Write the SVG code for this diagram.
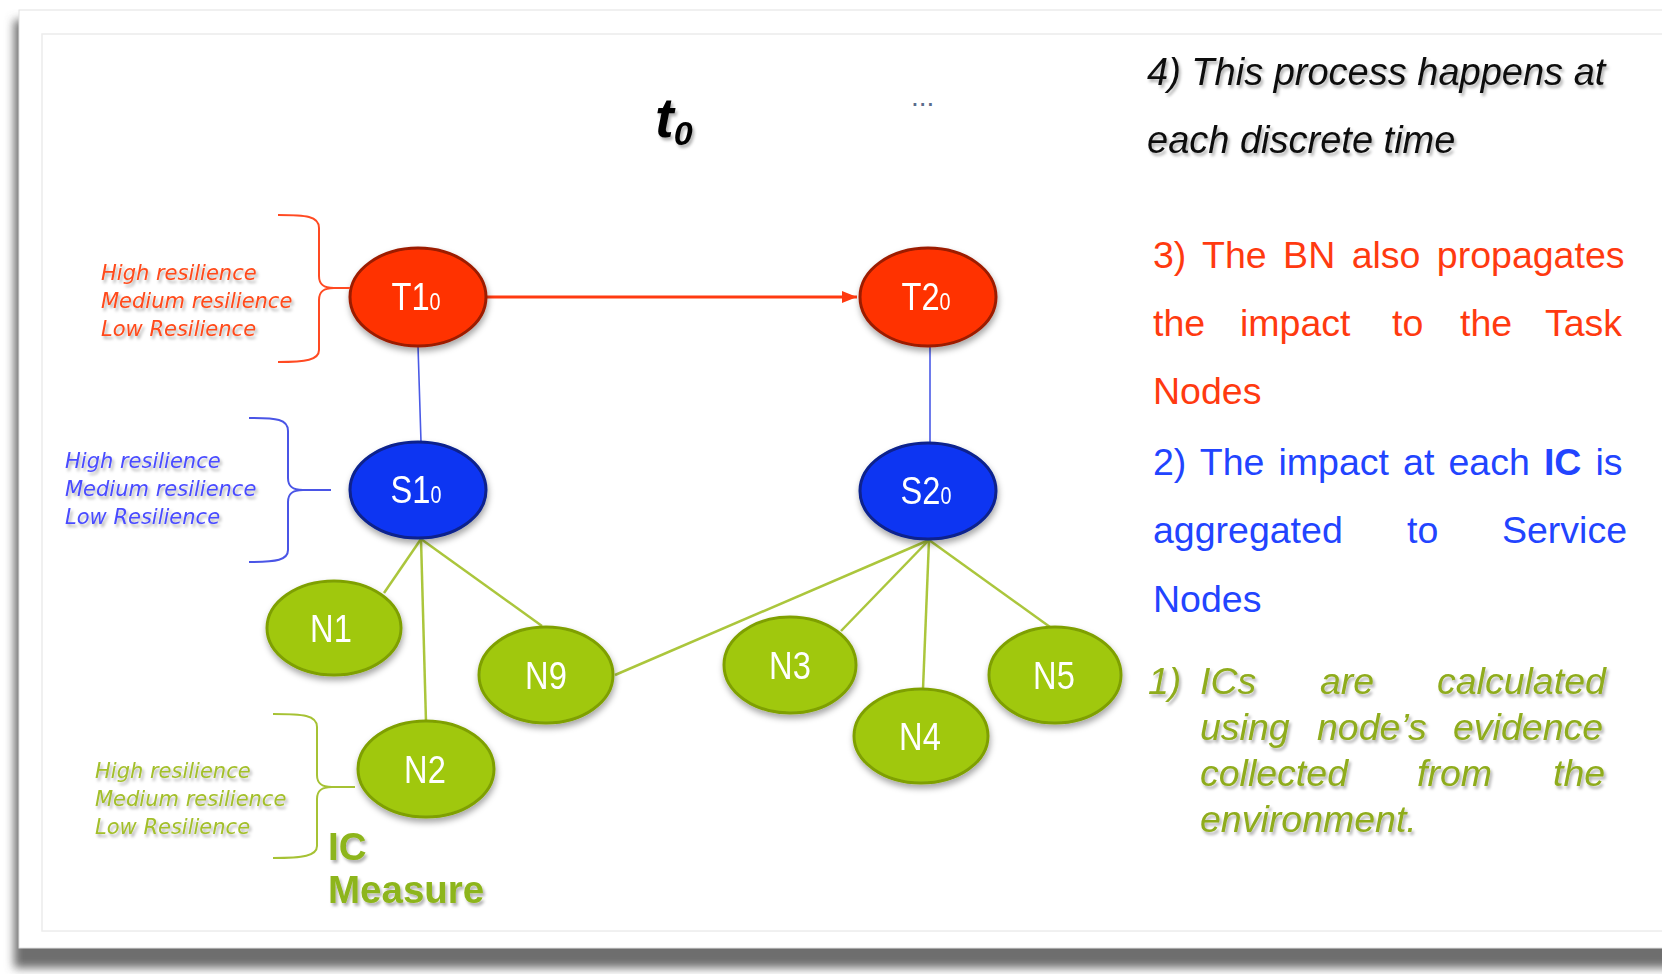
<svg xmlns="http://www.w3.org/2000/svg" width="1662" height="974" viewBox="0 0 1662 974">
<defs>
<style>
.card{fill:#ffffff;stroke:#e2e2e2;stroke-width:1}
.frame{fill:none;stroke:#ececec;stroke-width:1.5}
.tnode{fill:#ff3300;stroke:#9c1c06;stroke-width:3}
.snode{fill:#0a36f2;stroke:#08208c;stroke-width:3}
.nnode{fill:#a0c80c;stroke:#7fa006;stroke-width:3}
.nlabel{font-family:"Liberation Sans",Arial,sans-serif;font-size:38px;fill:#ffffff;text-anchor:middle}
.sub{font-size:23px}
.green{stroke:#abc63c;stroke-width:2.5;fill:none}
.blue{stroke:#4a5ae6;stroke-width:1.6;fill:none}
.red{stroke:#ff3a10;stroke-width:3;fill:none}
.brace{fill:none;stroke-width:2}
.res{font-family:"DejaVu Sans",Verdana,sans-serif;font-style:italic;font-size:21px}
.body{font-family:"Liberation Sans",Arial,sans-serif;font-size:37.5px}
</style>
<filter id="nshadow" x="-30%" y="-30%" width="160%" height="170%">
<feDropShadow dx="1" dy="4" stdDeviation="3" flood-color="#000" flood-opacity="0.35"/>
</filter>
<filter id="tshadow" x="-10%" y="-30%" width="120%" height="170%">
<feDropShadow dx="2" dy="3" stdDeviation="1.5" flood-color="#000" flood-opacity="0.3"/>
</filter>
<filter id="cblur" x="-5%" y="-5%" width="110%" height="110%">
<feGaussianBlur stdDeviation="5"/>
</filter>
<marker id="arrow" markerUnits="userSpaceOnUse" markerWidth="16" markerHeight="12" refX="15" refY="6" orient="auto">
<path d="M0,0 L15,6 L0,12 Z" fill="#ff3a10"/>
</marker>
</defs>

<rect x="0" y="0" width="1662" height="974" fill="#ffffff"/>
<g id="card">
<rect x="14" y="20" width="1720" height="948" fill="#6e6e6e" filter="url(#cblur)"/>
<rect class="card" x="19" y="10" width="1720" height="938"/>
<rect class="frame" x="42" y="34" width="1720" height="897"/>
</g>

<g id="connectors">
<line class="red" x1="487" y1="297" x2="857" y2="297" marker-end="url(#arrow)"/>
<line class="blue" x1="418" y1="346" x2="421" y2="442"/>
<line class="blue" x1="930" y1="346" x2="930" y2="442"/>
<line class="green" x1="421" y1="539" x2="384" y2="593"/>
<line class="green" x1="421" y1="539" x2="426" y2="722"/>
<line class="green" x1="421" y1="539" x2="542" y2="626"/>
<line class="green" x1="615" y1="675" x2="929" y2="540"/>
<line class="green" x1="929" y1="540" x2="841" y2="631"/>
<line class="green" x1="929" y1="540" x2="923" y2="689"/>
<line class="green" x1="929" y1="540" x2="1050" y2="627"/>
</g>

<g id="T1" filter="url(#nshadow)">
<ellipse class="tnode" cx="418" cy="297" rx="68" ry="49"/>
<text class="nlabel" transform="translate(416,310) scale(0.86,1)">T1<tspan class="sub">0</tspan></text>
</g>
<g id="T2" filter="url(#nshadow)">
<ellipse class="tnode" cx="928" cy="297" rx="68" ry="49"/>
<text class="nlabel" transform="translate(926,310) scale(0.86,1)">T2<tspan class="sub">0</tspan></text>
</g>
<g id="S1" filter="url(#nshadow)">
<ellipse class="snode" cx="418" cy="490" rx="68" ry="48"/>
<text class="nlabel" transform="translate(416,503) scale(0.86,1)">S1<tspan class="sub">0</tspan></text>
</g>
<g id="S2" filter="url(#nshadow)">
<ellipse class="snode" cx="928" cy="491" rx="68" ry="48"/>
<text class="nlabel" transform="translate(926,504) scale(0.86,1)">S2<tspan class="sub">0</tspan></text>
</g>
<g id="N1" filter="url(#nshadow)">
<ellipse class="nnode" cx="334" cy="628" rx="67" ry="47"/>
<text class="nlabel" transform="translate(331,642) scale(0.86,1)">N1</text>
</g>
<g id="N9" filter="url(#nshadow)">
<ellipse class="nnode" cx="546" cy="675" rx="67" ry="48"/>
<text class="nlabel" transform="translate(546,689) scale(0.86,1)">N9</text>
</g>
<g id="N2" filter="url(#nshadow)">
<ellipse class="nnode" cx="426" cy="769" rx="68" ry="48"/>
<text class="nlabel" transform="translate(425,783) scale(0.86,1)">N2</text>
</g>
<g id="N3" filter="url(#nshadow)">
<ellipse class="nnode" cx="790" cy="665" rx="66" ry="48"/>
<text class="nlabel" transform="translate(790,679) scale(0.86,1)">N3</text>
</g>
<g id="N4" filter="url(#nshadow)">
<ellipse class="nnode" cx="921" cy="736" rx="67" ry="47"/>
<text class="nlabel" transform="translate(920,750) scale(0.86,1)">N4</text>
</g>
<g id="N5" filter="url(#nshadow)">
<ellipse class="nnode" cx="1055" cy="675" rx="66" ry="48"/>
<text class="nlabel" transform="translate(1054,689) scale(0.86,1)">N5</text>
</g>

<g id="task-states">
<path class="brace" stroke="#ff4a22" d="M278,215 C306,215 319,216 319,228 L319,276 C319,284 323,288 334,288 L350,288 M334,288 C323,288 319,292 319,300 L319,350 C319,360 306,362 278,362"/>
<g class="res" fill="#ff4a1a" filter="url(#tshadow)">
<text x="101" y="280">High resilience</text>
<text x="101" y="308">Medium resilience</text>
<text x="101" y="336">Low Resilience</text>
</g>
</g>

<g id="service-states">
<path class="brace" stroke="#4a55e6" d="M249,418 C277,418 288,419 288,431 L288,478 C288,486 292,490 303,490 L331,490 M303,490 C292,490 288,494 288,502 L288,550 C288,560 277,562 249,562"/>
<g class="res" fill="#4a4cff" filter="url(#tshadow)">
<text x="65" y="468">High resilience</text>
<text x="65" y="496">Medium resilience</text>
<text x="65" y="524">Low Resilience</text>
</g>
</g>

<g id="ic-states">
<path class="brace" stroke="#a6c234" d="M273,714 C303,714 317,715 317,727 L317,775 C317,783 321,787 332,787 L355,787 M332,787 C321,787 317,791 317,799 L317,846 C317,856 303,858 273,858"/>
<g class="res" fill="#a3bf2a" filter="url(#tshadow)">
<text x="95" y="778">High resilience</text>
<text x="95" y="806">Medium resilience</text>
<text x="95" y="834">Low Resilience</text>
</g>
<g font-family="Liberation Sans,Arial,sans-serif" font-weight="bold" font-size="38.5" fill="#8db51a" filter="url(#tshadow)">
<text x="328" y="860">IC</text>
<text x="328" y="903">Measure</text>
</g>
</g>

<g id="title" filter="url(#tshadow)">
<text x="655" y="137" font-family="Liberation Sans,Arial,sans-serif" font-weight="bold" font-style="italic" font-size="56" fill="#000">t<tspan font-size="34" y="145">0</tspan></text>
</g>
<text x="911" y="106" font-family="Liberation Sans,Arial,sans-serif" font-size="28" fill="#5a6c8c">...</text>

<g id="step4" class="body" font-style="italic" fill="#111" filter="url(#tshadow)">
<text x="1147" y="85" font-size="38">4) This process happens at</text>
<text x="1147" y="153" font-size="38">each discrete time</text>
</g>

<g id="step3" class="body" fill="#ff3a10">
<text x="1153" y="268" word-spacing="6">3) The BN also propagates</text>
<text y="336"><tspan x="1153">the</tspan><tspan x="1240">impact</tspan><tspan x="1392">to</tspan><tspan x="1460">the</tspan><tspan x="1545">Task</tspan></text>
<text x="1153" y="404">Nodes</text>
</g>

<g id="step2" class="body" fill="#2244ff">
<text x="1153" y="475" word-spacing="3.7">2) The impact at each <tspan font-weight="bold">IC</tspan> is</text>
<text y="543"><tspan x="1153">aggregated</tspan><tspan x="1407">to</tspan><tspan x="1502">Service</tspan></text>
<text x="1153" y="612">Nodes</text>
</g>

<g id="step1" class="body" font-style="italic" fill="#8fac1c" filter="url(#tshadow)">
<text y="694"><tspan x="1148">1)</tspan><tspan x="1200">ICs</tspan><tspan x="1320">are</tspan><tspan x="1437">calculated</tspan></text>
<text y="740"><tspan x="1200">using</tspan><tspan x="1317">node’s</tspan><tspan x="1453">evidence</tspan></text>
<text y="786"><tspan x="1200">collected</tspan><tspan x="1417">from</tspan><tspan x="1553">the</tspan></text>
<text y="832"><tspan x="1200">environment.</tspan></text>
</g>
</svg>
